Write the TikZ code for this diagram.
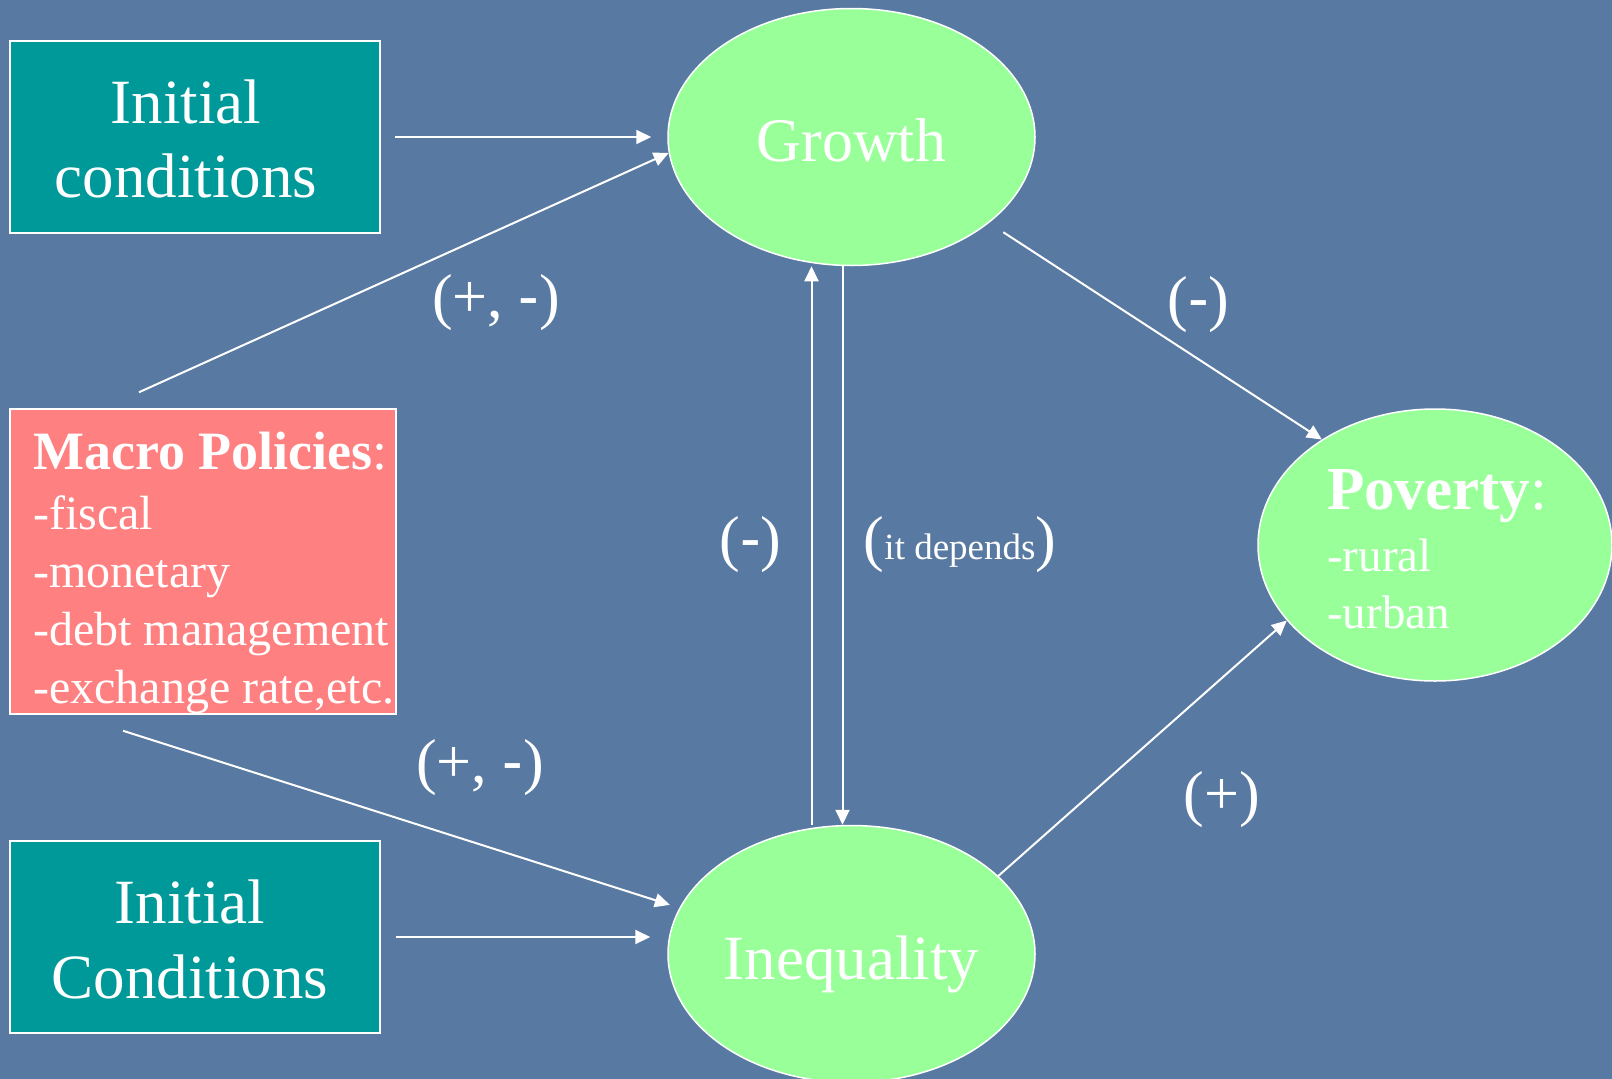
\documentclass[tikz,border=0pt]{standalone}
\usepackage{fontspec}
\setmainfont{Liberation Serif}
\newfontfamily\dashfont{Liberation Sans}
\usetikzlibrary{arrows.meta,shapes.geometric}
\definecolor{bgblue}{RGB}{88,121,161}
\definecolor{tealbox}{RGB}{0,153,153}
\definecolor{pinkbox}{RGB}{255,128,128}
\definecolor{greenoval}{RGB}{153,255,153}
\newcommand\dsh{{\dashfont -}}
\begin{document}
\begin{tikzpicture}[x=1pt,y=-1pt,
  box/.style={rectangle, draw=white, line width=1.5pt, inner sep=0pt},
  oval/.style={ellipse, draw=white, line width=1.5pt, fill=greenoval, inner sep=0pt, text=white},
  txt/.style={text=white, inner sep=0pt},
  arr/.style={draw=white, line width=2pt, -{Triangle[length=15pt,width=14pt]}},
  lbl/.style={text=white, inner sep=0pt, font=\fontsize{62}{62}\selectfont}]
\fill[bgblue] (0,0) rectangle (1612,1079);
\useasboundingbox (0,0) rectangle (1612,1079);

% boxes
\node[box, fill=tealbox, minimum width=370pt, minimum height=192pt] (init1) at (195,137) {};
\node[txt, align=center, font=\fontsize{63}{74}\selectfont] (init1t) at (186,138.5) {Initial\\conditions};
\node[box, fill=tealbox, minimum width=370pt, minimum height=192pt] (init2) at (195,937) {};
\node[txt, align=center, font=\fontsize{63}{75}\selectfont] (init2t) at (190,939) {Initial\\Conditions};
\node[box, fill=pinkbox, minimum width=386pt, minimum height=305pt] (macro) at (203,561.5) {};
\node[txt, align=left, anchor=north west, font=\fontsize{48}{58}\selectfont] (macrot) at (33,432)
  {{\fontsize{54}{54}\selectfont\textbf{Macro Policies}:}\\[2pt]-fiscal\\-monetary\\-debt management\\-exchange rate,etc.};

% ellipses
\node[oval, minimum width=367pt, minimum height=257pt, font=\fontsize{62}{62}\selectfont,
  text height=48pt, text depth=0pt] (growth) at (851.5,137) {Growth};
\node[oval, minimum width=367pt, minimum height=257pt, font=\fontsize{63}{63}\selectfont,
  text height=51pt, text depth=0pt] (ineq) at (851.5,954) {Inequality};
\node[oval, minimum width=354pt, minimum height=272pt] (poverty) at (1435,545) {};
\node[txt, align=left, anchor=north west, font=\fontsize{47}{57}\selectfont] (povertyt) at (1327,469)
  {{\fontsize{61}{61}\selectfont\textbf{Poverty}:}\\[5pt]-rural\\-urban};

% arrows
\draw[arr] ([xshift=14pt]init1.east) -- ([xshift=-16pt]init1.east -| growth.west);
\draw[arr] ([xshift=15pt]init2.east) -- ([xshift=-17pt]init2.east -| ineq.west);
\draw[arr] ([xshift=-64pt,yshift=16pt]macro.north) -- (growth.185);
\draw[arr, shorten >=10pt] ([xshift=-80pt,yshift=-16pt]macro.south) -- (ineq.165);
\draw[arr] ([xshift=-40pt]ineq.north) -- ([xshift=-40pt]growth.south);
\draw[arr] ([xshift=-9pt]growth.south) -- ([xshift=-9pt]ineq.north);
\draw[arr, shorten <=17pt] (growth.-32.5) -- (poverty.137);
\draw[arr] (ineq.28) -- (poverty.207);

% labels
\node[lbl] (l1) at (496,303) {(+, \dsh)};
\node[lbl] (l2) at (1198.5,304.5) {(\dsh)};
\node[lbl] (l3) at (750.5,545) {(\dsh)};
\node[lbl] (l4) at (960,545) {({\fontsize{37}{37}\selectfont it depends})};
\node[lbl] (l5) at (480,768) {(+, \dsh)};
\node[lbl] (l6) at (1222,800) {(+)};
\end{tikzpicture}
\end{document}
